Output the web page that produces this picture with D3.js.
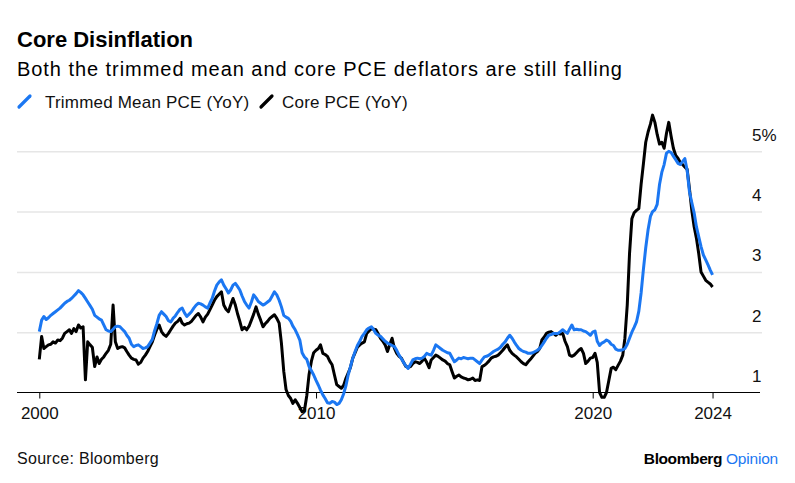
<!DOCTYPE html>
<html><head><meta charset="utf-8">
<script src="https://cdn.jsdelivr.net/npm/d3@7"></script>
<style>
html,body{margin:0;padding:0;background:#fff;}
svg text{font-family:"Liberation Sans",Arial,Helvetica,sans-serif;}
</style></head>
<body>
<svg id="chart" width="795" height="483"></svg>
<script>
// ---- DATA (monthly, Jan 2000 .. May 2024) ----
const startYear = 2000, startMonth = 0;
const seriesNames = ["Trimmed Mean PCE (YoY)", "Core PCE (YoY)"];
const trimmedMean = [
  2.01,2.20,2.26,2.21,2.24,2.28,2.31,2.34,2.37,2.40,2.44,2.48, // 2000
  2.51,2.53,2.56,2.60,2.64,2.69,2.66,2.62,2.56,2.50,2.44,2.38, // 2001
  2.28,2.25,2.22,2.20,2.12,2.04,2.02,2.01,2.05,2.09,2.10,2.09, // 2002
  2.05,2.01,1.95,1.90,1.80,1.76,1.78,1.79,1.76,1.73,1.74,1.76, // 2003
  1.82,1.88,2.02,2.14,2.28,2.34,2.30,2.26,2.19,2.17,2.23,2.27, // 2004
  2.33,2.38,2.40,2.32,2.26,2.30,2.34,2.40,2.45,2.48,2.47,2.45, // 2005
  2.42,2.40,2.48,2.56,2.68,2.78,2.83,2.87,2.78,2.72,2.65,2.70, // 2006
  2.78,2.81,2.76,2.70,2.60,2.51,2.45,2.40,2.50,2.62,2.57,2.51, // 2007
  2.48,2.45,2.47,2.50,2.53,2.60,2.67,2.62,2.53,2.42,2.28,2.25, // 2008
  2.23,2.18,2.10,2.04,1.96,1.87,1.66,1.59,1.55,1.43,1.36,1.29, // 2009
  1.20,1.12,1.04,0.96,0.90,0.83,0.82,0.85,0.84,0.80,0.82,0.88, // 2010
  0.98,1.12,1.29,1.43,1.57,1.68,1.78,1.85,1.93,1.98,2.04,2.07, // 2011
  2.09,2.04,1.98,1.95,1.93,1.89,1.85,1.82,1.80,1.78,1.76,1.70, // 2012
  1.62,1.56,1.50,1.44,1.40,1.47,1.54,1.56,1.57,1.56,1.57,1.60, // 2013
  1.65,1.63,1.62,1.70,1.79,1.76,1.73,1.70,1.68,1.66,1.65,1.58, // 2014
  1.51,1.54,1.57,1.56,1.58,1.57,1.56,1.57,1.57,1.54,1.51,1.48, // 2015
  1.54,1.59,1.60,1.62,1.65,1.68,1.70,1.72,1.75,1.80,1.84,1.90, // 2016
  1.95,1.90,1.84,1.78,1.73,1.70,1.68,1.67,1.65,1.65,1.66,1.68, // 2017
  1.70,1.73,1.78,1.84,1.90,1.95,1.96,1.98,1.98,1.98,2.01,2.04, // 2018
  2.01,1.98,2.05,2.12,2.04,2.05,2.04,2.04,2.02,2.01,1.98,1.95, // 2019
  2.00,2.02,1.85,1.78,1.82,1.84,1.87,1.85,1.80,1.78,1.72,1.70, // 2020
  1.70,1.71,1.73,1.80,1.90,2.00,2.08,2.17,2.35,2.65,3.05,3.40, // 2021
  3.70,3.92,4.00,4.03,4.12,4.45,4.65,4.78,4.97,5.00,4.98,4.92, // 2022
  4.86,4.80,4.78,4.83,4.88,4.68,4.33,4.15,3.98,3.75,3.58,3.42, // 2023
  3.28,3.20,3.12,3.03,2.95                                     // 2024
];
const corePce = [
  1.55,1.93,1.73,1.76,1.79,1.80,1.84,1.82,1.87,1.86,1.90,1.98, // 2000
  2.01,2.04,1.98,2.06,2.01,2.12,2.07,2.09,1.21,1.84,1.79,1.75, // 2001
  1.43,1.59,1.48,1.55,1.59,1.65,1.70,1.80,2.45,1.84,1.73,1.75, // 2002
  1.76,1.74,1.68,1.62,1.57,1.55,1.54,1.47,1.50,1.57,1.62,1.68, // 2003
  1.76,1.84,1.95,2.05,2.12,2.01,1.96,1.93,1.98,2.04,2.10,2.15, // 2004
  2.18,2.23,2.15,2.12,2.14,2.15,2.18,2.23,2.28,2.31,2.25,2.17, // 2005
  2.25,2.30,2.37,2.45,2.53,2.59,2.63,2.67,2.45,2.38,2.34,2.45, // 2006
  2.56,2.45,2.31,2.18,2.04,2.08,2.04,2.10,2.20,2.30,2.42,2.30, // 2007
  2.20,2.09,2.14,2.18,2.23,2.26,2.29,2.23,2.15,1.82,1.35,1.05, // 2008
  0.95,0.90,0.82,0.88,0.82,0.75,0.68,0.70,0.95,1.30,1.52,1.66, // 2009
  1.70,1.73,1.79,1.65,1.63,1.60,1.52,1.46,1.29,1.13,1.10,1.07, // 2010
  1.12,1.24,1.32,1.42,1.57,1.66,1.75,1.79,1.82,1.84,1.98,2.02, // 2011
  2.06,2.05,2.04,1.97,1.90,1.85,1.79,1.68,1.80,1.90,1.73,1.65, // 2012
  1.60,1.57,1.50,1.43,1.42,1.43,1.48,1.51,1.50,1.48,1.52,1.57, // 2013
  1.50,1.41,1.54,1.58,1.62,1.60,1.57,1.54,1.52,1.48,1.46,1.35, // 2014
  1.24,1.27,1.29,1.26,1.24,1.23,1.21,1.22,1.24,1.20,1.21,1.20, // 2015
  1.43,1.45,1.48,1.52,1.57,1.59,1.60,1.62,1.66,1.70,1.75,1.79, // 2016
  1.70,1.65,1.62,1.59,1.55,1.51,1.48,1.46,1.51,1.55,1.60,1.65, // 2017
  1.68,1.73,1.87,1.92,1.98,2.00,2.01,1.98,1.95,1.98,1.97,1.98, // 2018
  1.85,1.76,1.62,1.60,1.62,1.66,1.70,1.73,1.65,1.48,1.52,1.57, // 2019
  1.58,1.65,1.50,1.00,0.92,0.92,1.00,1.20,1.40,1.42,1.38,1.45, // 2020
  1.52,1.62,1.90,2.45,3.30,3.88,3.98,4.02,4.05,4.45,4.80,5.15, // 2021
  5.32,5.45,5.60,5.48,5.28,5.12,5.15,5.05,5.30,5.48,5.25,5.05, // 2022
  4.93,4.88,4.82,4.78,4.74,4.70,4.38,4.02,3.75,3.56,3.30,3.00, // 2023
  2.93,2.86,2.83,2.80,2.75                                     // 2024
];
const xTickYears = [2000, 2010, 2020];
const xTickLabels = ["2000", "2010", "2020", "2024"];
const yTickValues = [1, 2, 3, 4, 5];
const yTickLabels = ["1", "2", "3", "4", "5%"];

// ---- CHART ----
const BLUE = "#1b77f2", BLACK = "#000000";
const svg = d3.select("#chart");
const dates = trimmedMean.map((_, i) => new Date(startYear, startMonth + i, 1));
const lastDate = dates[dates.length - 1];

const x = d3.scaleTime()
  .domain([new Date(2000, 0, 1), new Date(2020, 0, 1)])
  .range([39.3, 592.7]);
const y = d3.scaleLinear().domain([1, 5]).range([392.5, 151.3]);

const left = 17, right = 762;

// gridlines + y labels
const yAxis = d3.axisRight(y)
  .tickValues(yTickValues)
  .tickSize(right - left)
  .tickFormat((d, i) => yTickLabels[i]);
const gy = svg.append("g").attr("transform", `translate(${left},0)`).call(yAxis);
gy.select(".domain").remove();
gy.selectAll(".tick line").attr("stroke", "#e6e6e6").attr("stroke-width", 1.5)
  .filter(d => d === 1).remove();
gy.selectAll(".tick text")
  .attr("x", 735).attr("dy", -11)
  .attr("text-anchor", "start")
  .attr("font-size", 17).attr("fill", "#111");

// x axis
const xTickDates = xTickYears.map(yr => new Date(yr, 0, 1)).concat([lastDate]);
const xAxis = d3.axisBottom(x)
  .tickValues(xTickDates)
  .tickSize(6)
  .tickFormat((d, i) => xTickLabels[i]);
const gx = svg.append("g").attr("transform", `translate(0,${y(1)})`).call(xAxis);
gx.select(".domain").remove();
gx.selectAll(".tick line").attr("stroke", "#000");
gx.selectAll(".tick text").attr("font-size", 17).attr("fill", "#111").attr("dy", "1.0em");
svg.append("line")
  .attr("x1", left).attr("x2", right - 2)
  .attr("y1", y(1)).attr("y2", y(1))
  .attr("stroke", "#000").attr("stroke-width", 1);

// lines
const line = d3.line().x((d, i) => x(dates[i])).y(d => y(d)).curve(d3.curveLinear);
svg.append("path").datum(corePce)
  .attr("d", line).attr("fill", "none").attr("stroke", BLACK)
  .attr("stroke-width", 3).attr("stroke-linejoin", "round");
svg.append("path").datum(trimmedMean)
  .attr("d", line).attr("fill", "none").attr("stroke", BLUE)
  .attr("stroke-width", 3).attr("stroke-linejoin", "round");

// title & subtitle
svg.append("text").attr("x", 17).attr("y", 46.5)
  .attr("font-size", 22).attr("font-weight", "bold").attr("fill", "#000")
  .text("Core Disinflation");
svg.append("text").attr("x", 17).attr("y", 76)
  .attr("font-size", 20).attr("letter-spacing", 0.95).attr("fill", "#000")
  .text("Both the trimmed mean and core PCE deflators are still falling");

// legend
const legend = [
  {name: seriesNames[0], color: BLUE, x: 18, tx: 45},
  {name: seriesNames[1], color: BLACK, x: 260, tx: 282}
];
legend.forEach(l => {
  svg.append("line").attr("x1", l.x + 1).attr("y1", 107).attr("x2", l.x + 12).attr("y2", 96)
    .attr("stroke", l.color).attr("stroke-width", 3.2).attr("stroke-linecap", "round");
  svg.append("text").attr("x", l.tx).attr("y", 107.5)
    .attr("font-size", 17).attr("letter-spacing", 0.2).attr("fill", "#111").text(l.name);
});

// footer
svg.append("text").attr("x", 17).attr("y", 464)
  .attr("font-size", 16).attr("letter-spacing", 0.3).attr("fill", "#111").text("Source: Bloomberg");
const brand = svg.append("text").attr("x", 778).attr("y", 464)
  .attr("text-anchor", "end").attr("font-size", 15.5);
brand.append("tspan").attr("font-weight", "bold").attr("fill", "#000").attr("letter-spacing", -0.4).text("Bloomberg ");
brand.append("tspan").attr("fill", BLUE).attr("letter-spacing", -0.2).text("Opinion");
</script>
</body></html>
